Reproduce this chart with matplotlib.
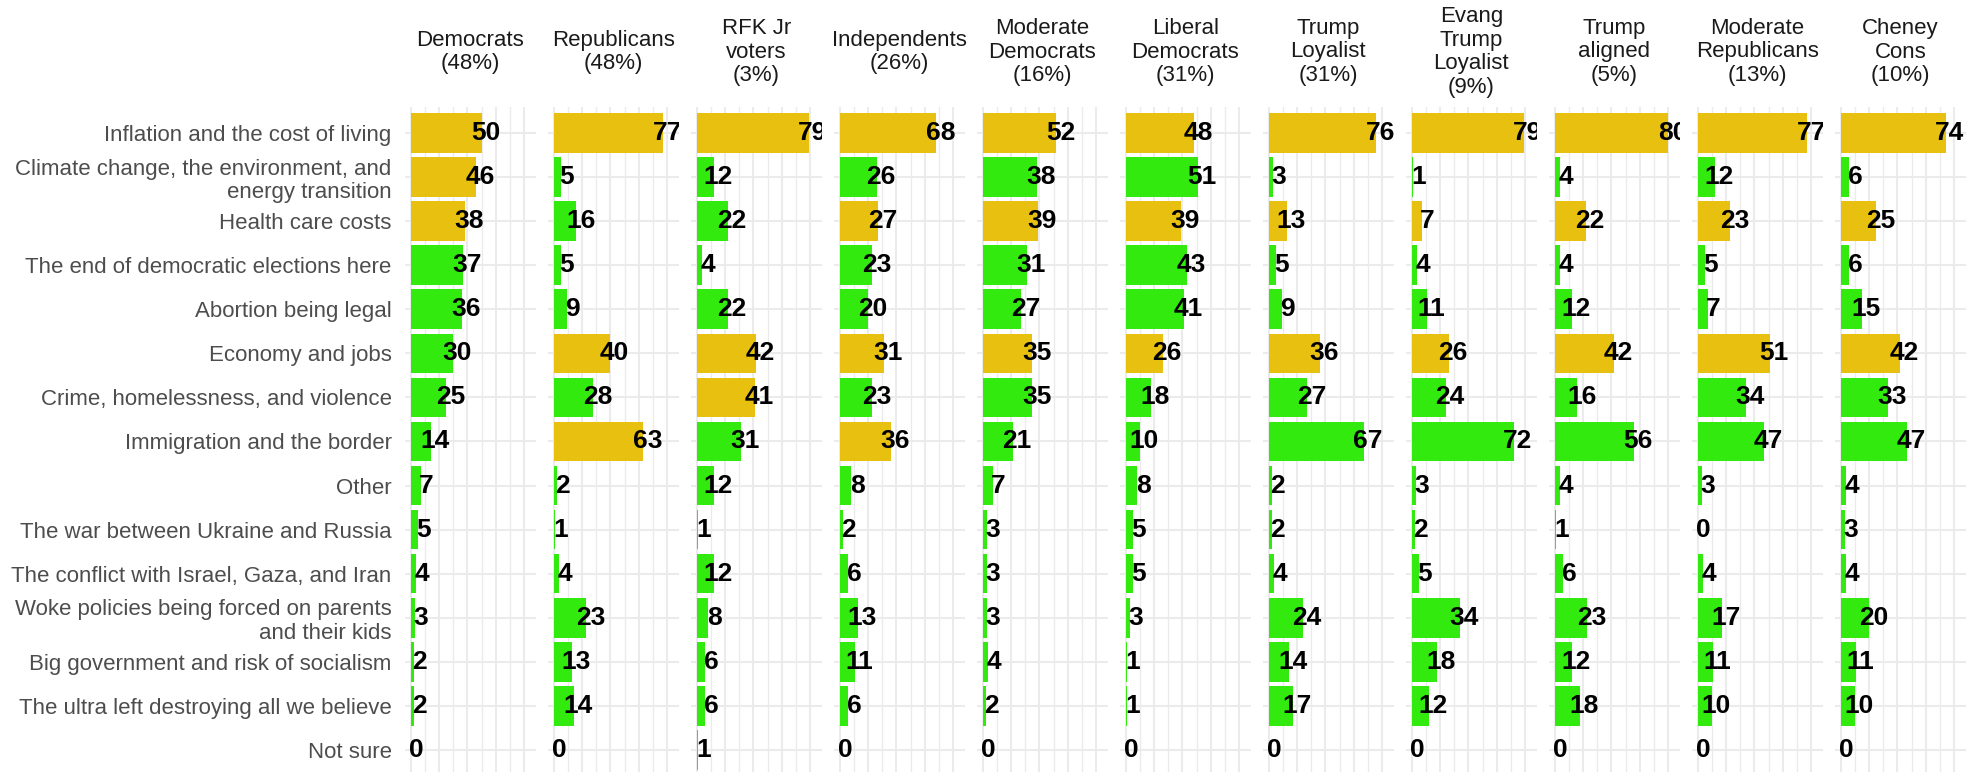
import numpy as np
import matplotlib
matplotlib.use("Agg")
import matplotlib.pyplot as plt

plt.rcParams['font.family'] = ['Liberation Sans', 'DejaVu Sans']

issues = [
    "Inflation and the cost of living",
    "Climate change, the environment, and\nenergy transition",
    "Health care costs",
    "The end of democratic elections here",
    "Abortion being legal",
    "Economy and jobs",
    "Crime, homelessness, and violence",
    "Immigration and the border",
    "Other",
    "The war between Ukraine and Russia",
    "The conflict with Israel, Gaza, and Iran",
    "Woke policies being forced on parents\nand their kids",
    "Big government and risk of socialism",
    "The ultra left destroying all we believe",
    "Not sure",
]

groups = [
    "Democrats\n(48%)", "Republicans\n(48%)", "RFK Jr\nvoters\n(3%)",
    "Independents\n(26%)", "Moderate\nDemocrats\n(16%)", "Liberal\nDemocrats\n(31%)",
    "Trump\nLoyalist\n(31%)", "Evang\nTrump\nLoyalist\n(9%)", "Trump\naligned\n(5%)",
    "Moderate\nRepublicans\n(13%)", "Cheney\nCons\n(10%)",
]

democrats     = [50, 46, 38, 37, 36, 30, 25, 14, 7, 5, 4, 3, 2, 2, 0]
republicans   = [77, 5, 16, 5, 9, 40, 28, 63, 2, 1, 4, 23, 13, 14, 0]
rfk_jr        = [79, 12, 22, 4, 22, 42, 41, 31, 12, 1, 12, 8, 6, 6, 1]
independents  = [68, 26, 27, 23, 20, 31, 23, 36, 8, 2, 6, 13, 11, 6, 0]
moderate_dems = [52, 38, 39, 31, 27, 35, 35, 21, 7, 3, 3, 3, 4, 2, 0]
liberal_dems  = [48, 51, 39, 43, 41, 26, 18, 10, 8, 5, 5, 3, 1, 1, 0]
trump_loyal   = [76, 3, 13, 5, 9, 36, 27, 67, 2, 2, 4, 24, 14, 17, 0]
evang_trump   = [79, 1, 7, 4, 11, 26, 24, 72, 3, 2, 5, 34, 18, 12, 0]
trump_aligned = [80, 4, 22, 4, 12, 42, 16, 56, 4, 1, 6, 23, 12, 18, 0]
moderate_reps = [77, 12, 23, 5, 7, 51, 34, 47, 3, 0, 4, 17, 11, 10, 0]
cheney_cons   = [74, 6, 25, 6, 15, 42, 33, 47, 4, 3, 4, 20, 11, 10, 0]

values = [democrats, republicans, rfk_jr, independents, moderate_dems, liberal_dems,
          trump_loyal, evang_trump, trump_aligned, moderate_reps, cheney_cons]

# issues shown in gold for each group
highlight = [
    [0, 1, 2], [0, 5, 7], [0, 5, 6], [0, 2, 5, 7], [0, 2, 5], [0, 2, 5],
    [0, 2, 5], [0, 2, 5], [0, 2, 5], [0, 2, 5], [0, 2, 5],
]

GOLD = "#E8C010"
GREEN = "#33EA0F"
GRID = "#EBEBEB"

W, H = 1982, 772
fig = plt.figure(figsize=(W / 100, H / 100), dpi=100)

# panel geometry in pixels (1.416 px per percentage point)
xmin, xmax = -4.2, 88.2
x0, stride = 404.85, 143.0
pw = (xmax - xmin) * 1.416
ytop, ybot = 106.6, 776.3
ypos = np.arange(len(issues))

for g, vals in enumerate(values):
    ax = fig.add_axes([(x0 + g * stride) / W, 1 - ybot / H, pw / W, (ybot - ytop) / H])
    ax.set_xlim(xmin, xmax)
    ax.set_ylim(len(issues) - 0.4, -0.6)
    for s in ax.spines.values():
        s.set_visible(False)
    ax.set_xticks([0, 20, 40, 60, 80])
    ax.set_xticks([10, 30, 50, 70], minor=True)
    ax.grid(True, which='major', axis='both', color=GRID, linewidth=1.5)
    ax.grid(True, which='minor', axis='x', color=GRID, linewidth=1.0)
    ax.set_axisbelow(True)
    ax.tick_params(axis='both', which='both', length=0, labelbottom=False)
    ax.set_yticks(ypos)
    if g == 0:
        ax.set_yticklabels(issues, fontsize=16, color="#4D4D4D", linespacing=1.15)
        ax.tick_params(axis='y', pad=9.6)
    else:
        ax.set_yticklabels([])

    colors = [GOLD if i in highlight[g] else GREEN for i in range(len(issues))]
    ax.barh(ypos, vals, height=0.9, color=colors)
    for i, v in enumerate(vals):
        off = 4.2 if v < 10 else 3.0
        ax.text(v + off, i, str(v), ha='center', va='center', fontsize=19,
                fontweight='bold', color='black', clip_on=True)

    cx = (x0 + g * stride + pw / 2) / W
    fig.text(cx, 1 - 52 / H, groups[g], ha='center', va='center', fontsize=16,
             color="#1A1A1A", linespacing=1.15)

fig.savefig("out.png", dpi=100)
